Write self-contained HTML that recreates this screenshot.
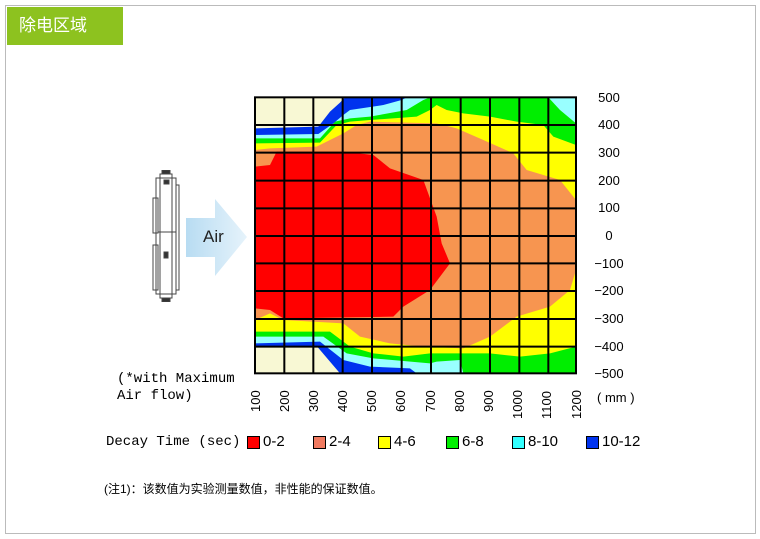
<!DOCTYPE html>
<html><head><meta charset="utf-8"><style>
body{margin:0;width:760px;height:539px;background:#fff;position:relative;overflow:hidden;font-family:"Liberation Sans","Noto Sans CJK SC",sans-serif}
.a{position:absolute;white-space:nowrap}
.m{font-family:"Liberation Mono","Noto Sans CJK SC",monospace}
.sw{position:absolute;width:13px;height:13px;top:436px;border:1px solid #000;box-sizing:border-box}
.yl{position:absolute;left:594px;font-size:13px;width:30px;text-align:center}
.xl{position:absolute;top:388px;font-size:13px;transform-origin:0 0;transform:rotate(-90deg)}
</style></head><body>
<div class="a" style="left:5px;top:5px;width:749px;height:527px;border:1px solid #bbb"></div>
<div class="a" style="left:7px;top:7px;width:116px;height:38px;background:#8dc21f;color:#fff;font-size:17px;line-height:38px;padding-left:12px;box-sizing:border-box">除电区域</div>

<svg class="a" style="left:150px;top:170px" width="32" height="132" viewBox="0 0 32 132">
<g fill="none" stroke="#444" stroke-width="1">
<rect x="10" y="4" width="12" height="124"/><rect x="6" y="8" width="20" height="116"/>
<rect x="3" y="28" width="5" height="35"/><rect x="3" y="75" width="5" height="45"/>
<rect x="26" y="15" width="3" height="105"/><line x1="8" y1="62" x2="26" y2="62"/>
<rect x="12" y="0" width="8" height="4" fill="#333"/><rect x="12" y="128" width="8" height="4" fill="#333"/>
<rect x="14" y="10" width="5" height="4" fill="#333"/><rect x="14" y="82" width="4" height="6" fill="#333"/>
</g></svg>
<svg class="a" style="left:186px;top:199px" width="62" height="77">
<defs><linearGradient id="g" x1="0" x2="1"><stop offset="0" stop-color="#b8dcf2"/><stop offset="1" stop-color="#e6f3fb"/></linearGradient></defs>
<polygon points="0,19 29,19 29,0 61,38 29,77 29,58 0,58" fill="url(#g)"/></svg>
<div class="a" style="left:203px;top:227px;font-size:17px;color:#222">Air</div>

<svg class="a" style="left:250px;top:90px" width="340" height="290" viewBox="0 0 1020 870">
<rect x="15" y="22" width="963" height="828" fill="#f79550"/>
<polygon fill="#ffff00" points="15,22 978,22 978,330 930,270 830,240 790,190 700,150 620,115 560,100 360,95 320,105 280,130 200,170 60,175 15,180"/>
<polygon fill="#00ee00" points="15,22 978,22 978,165 910,140 880,105 800,95 720,80 640,70 590,60 560,45 540,60 500,80 360,90 300,95 260,105 210,158 15,160"/>
<polygon fill="#99ffff" points="15,22 540,22 520,30 470,60 360,80 300,85 255,95 210,145 15,145"/>
<polygon fill="#99ffff" points="895,22 978,22 978,100 930,60"/>
<polygon fill="#0033ee" points="15,22 470,22 455,30 400,45 300,60 280,75 250,100 205,132 15,135"/>
<polygon fill="#f8f8d4" points="15,22 285,22 270,38 240,65 205,110 15,115"/>
<polygon fill="#ffff00" points="15,850 978,850 978,540 960,600 900,650 800,680 720,740 640,775 520,770 420,760 330,740 280,700 100,690 60,670 15,690"/>
<polygon fill="#00ee00" points="15,850 978,850 978,770 900,790 810,800 720,790 640,790 540,790 460,800 370,790 300,770 240,725 15,725"/>
<polygon fill="#99ffff" points="15,850 640,850 630,810 560,815 540,820 370,805 290,790 220,740 15,740"/>
<polygon fill="#0033ee" points="15,850 500,850 480,835 360,830 280,810 210,755 15,760"/>
<polygon fill="#f8f8d4" points="15,850 270,850 200,768 15,768"/>
<polygon fill="#ff0000" points="15,230 60,225 80,185 280,185 370,195 420,235 520,270 560,380 575,460 600,520 540,600 460,650 430,680 100,685 60,660 15,655"/>
<g stroke="#000" stroke-width="6" fill="none">
<rect x="15" y="22" width="963" height="828"/>
<path d="M103,22V850M190,22V850M278,22V850M366,22V850M455,22V850M543,22V850M632,22V850M720,22V850M808,22V850M895,22V850"/>
<path d="M15,105H978M15,188H978M15,272H978M15,355H978M15,438H978M15,520H978M15,603H978M15,687H978M15,770H978"/>
</g></svg>

<div class="yl" style="top:90px">500</div><div class="yl" style="top:117px">400</div><div class="yl" style="top:145px">300</div><div class="yl" style="top:173px">200</div><div class="yl" style="top:200px">100</div><div class="yl" style="top:228px">0</div><div class="yl" style="top:256px">−100</div><div class="yl" style="top:283px">−200</div><div class="yl" style="top:311px">−300</div><div class="yl" style="top:339px">−400</div><div class="yl" style="top:366px">−500</div>

<div class="xl" style="left:248px;top:412px">100</div><div class="xl" style="left:277px;top:412px">200</div><div class="xl" style="left:306px;top:412px">300</div><div class="xl" style="left:335px;top:412px">400</div><div class="xl" style="left:364px;top:412px">500</div><div class="xl" style="left:393px;top:412px">600</div><div class="xl" style="left:423px;top:412px">700</div><div class="xl" style="left:452px;top:412px">800</div><div class="xl" style="left:481px;top:412px">900</div><div class="xl" style="left:510px;top:419px">1000</div><div class="xl" style="left:539px;top:419px">1100</div><div class="xl" style="left:569px;top:419px">1200</div>
<div class="a" style="left:597px;top:390px;font-size:13px">( mm )</div>
<div class="a m" style="left:117px;top:371px;font-size:14px;line-height:17px">(*with Maximum<br>Air flow)</div>

<div class="a m" style="left:106px;top:434px;font-size:14px">Decay Time (sec)</div>
<div class="sw" style="left:247px;background:#ff0000"></div><div class="a" style="left:263px;top:433px;font-size:15px">0-2</div>
<div class="sw" style="left:313px;background:#f07a60"></div><div class="a" style="left:329px;top:433px;font-size:15px">2-4</div>
<div class="sw" style="left:378px;background:#ffff00"></div><div class="a" style="left:394px;top:433px;font-size:15px">4-6</div>
<div class="sw" style="left:446px;background:#00ee00"></div><div class="a" style="left:462px;top:433px;font-size:15px">6-8</div>
<div class="sw" style="left:512px;background:#33ffff"></div><div class="a" style="left:528px;top:433px;font-size:15px">8-10</div>
<div class="sw" style="left:586px;background:#0033ee"></div><div class="a" style="left:602px;top:433px;font-size:15px">10-12</div>

<div class="a" style="left:104px;top:480px;font-size:12px">(注1)：该数值为实验测量数值，非性能的保证数值。</div>
</body></html>
